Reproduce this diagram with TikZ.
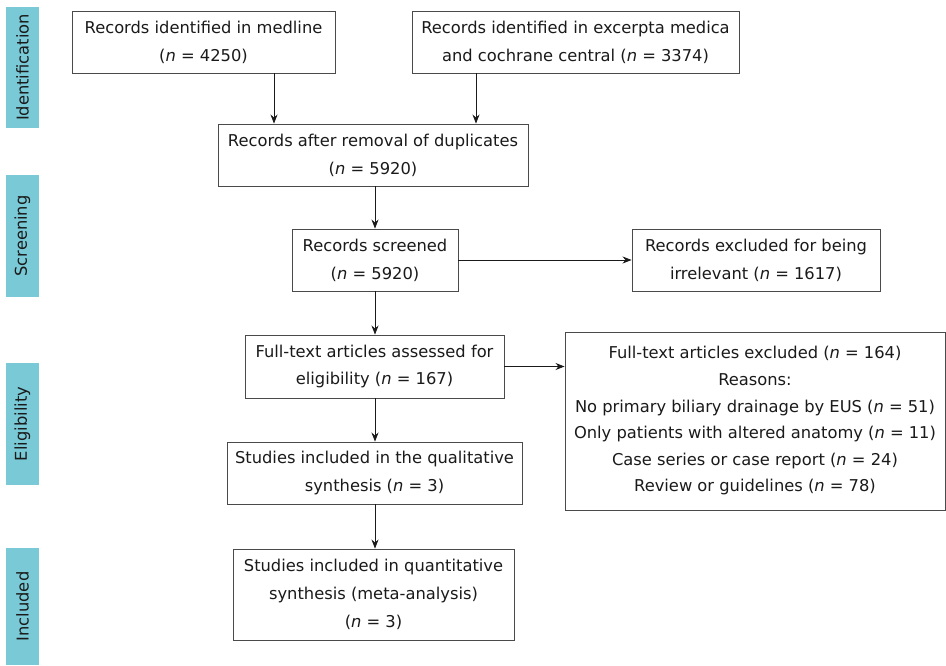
\documentclass[tikz,border=0pt]{standalone}
\usepackage{fontspec}
\setmainfont{DejaVu Sans}
\usetikzlibrary{arrows.meta}
\definecolor{sidefill}{HTML}{79C9D7}
\definecolor{boxline}{HTML}{4A4A4A}
\definecolor{txt}{HTML}{1A1A1A}
\newcommand{\nn}{\textit{n}}
\tikzset{
  flowbox/.style={draw=boxline, line width=0.9pt, fill=white, align=center, text=txt,
    inner sep=0pt, font=\fontsize{16.3}{27.8}\selectfont},
  sidebar/.style={fill=sidefill, draw=none, inner sep=0pt, text=txt},
  sidetext/.style={rotate=90, text=txt, font=\fontsize{16.3}{20}\selectfont},
  arr/.style={draw=txt, line width=0.8pt, -{Stealth[length=9pt,width=7pt]}}
}
\begin{document}
\begin{tikzpicture}[x=1pt,y=1pt]
\useasboundingbox (0,0) rectangle (946,-666);
% sidebars
\node[sidebar, minimum width=33pt, minimum height=121pt] (sid) at (22.5,-67.5) {};
\node[sidetext] (sidt) at (sid.center) {Identification};
\node[sidebar, minimum width=33pt, minimum height=122pt] (ssc) at (22.5,-236) {};
\node[sidetext] (ssct) at (ssc.center) {Screening};
\node[sidebar, minimum width=33pt, minimum height=122pt] (sel) at (22.5,-424) {};
\node[sidetext] (selt) at (sel.center) {Eligibility};
\node[sidebar, minimum width=33pt, minimum height=117pt] (sin) at (22.5,-606.5) {};
\node[sidetext] (sint) at (sin.center) {Included};
% boxes
\node[flowbox, minimum width=263pt, minimum height=62pt] (med) at (203.5,-42)
  {Records identified in medline\\(\nn\ = 4250)};
\node[flowbox, minimum width=327pt, minimum height=62pt] (exc) at (575.5,-42)
  {Records identified in excerpta medica\\and cochrane central (\nn\ = 3374)};
\node[flowbox, minimum width=310pt, minimum height=62pt] (dup) at (373,-155)
  {Records after removal of duplicates\\(\nn\ = 5920)};
\node[flowbox, minimum width=166pt, minimum height=62pt] (scr) at (375,-260)
  {Records screened\\(\nn\ = 5920)};
\node[flowbox, minimum width=248pt, minimum height=62pt] (irr) at (756,-260)
  {Records excluded for being\\irrelevant (\nn\ = 1617)};
\node[flowbox, minimum width=259pt, minimum height=63pt] (ful) at (374.5,-366.5)
  {Full-text articles assessed for\\eligibility (\nn\ = 167)};
\node[flowbox, minimum width=380pt, minimum height=178pt, font=\fontsize{16.3}{26.6}\selectfont] (exl) at (755,-421)
  {Full-text articles excluded (\nn\ = 164)\\Reasons:\\No primary biliary drainage by EUS (\nn\ = 51)\\Only patients with altered anatomy (\nn\ = 11)\\Case series or case report (\nn\ = 24)\\Review or guidelines (\nn\ = 78)};
\node[flowbox, minimum width=295pt, minimum height=62pt] (qua) at (374.5,-473)
  {Studies included in the qualitative\\synthesis (\nn\ = 3)};
\node[flowbox, minimum width=281pt, minimum height=91pt] (qnt) at (373.5,-594.5)
  {Studies included in quantitative\\synthesis (meta-analysis)\\(\nn\ = 3)};
% arrows
\coordinate (xm) at (274,0);
\coordinate (xe) at (476,0);
\draw[arr] (med.south -| xm) -- (dup.north -| xm);
\draw[arr] (exc.south -| xe) -- (dup.north -| xe);
\draw[arr] (dup.south -| scr.north) -- (scr.north);
\draw[arr] (scr.east) -- (irr.west |- scr.east);
\draw[arr] (scr.south) -- (ful.north -| scr.south);
\draw[arr] (ful.east) -- (exl.west |- ful.east);
\draw[arr] (ful.south -| scr.south) -- (qua.north -| scr.south);
\draw[arr] (qua.south -| scr.south) -- (qnt.north -| scr.south);
\end{tikzpicture}
\end{document}
